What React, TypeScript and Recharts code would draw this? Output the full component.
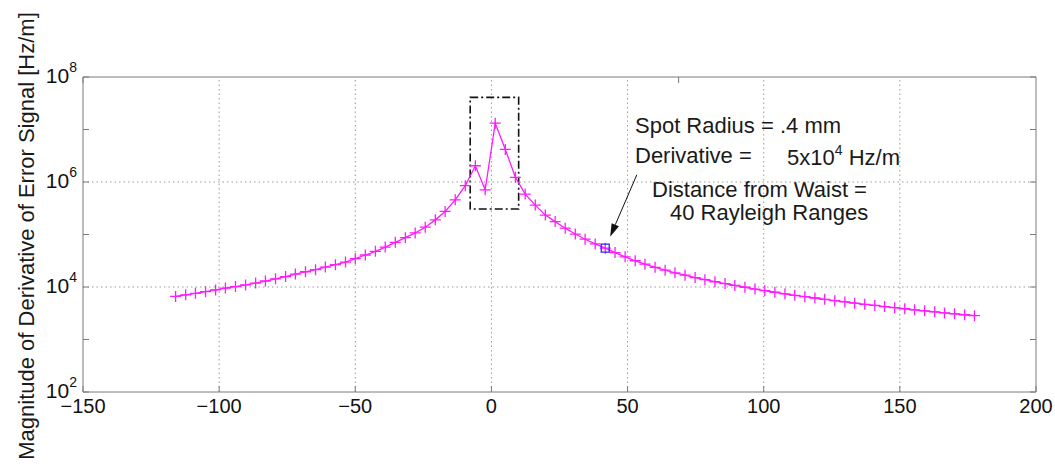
import { ComposedChart, Line, Scatter, XAxis, YAxis, ReferenceLine, ReferenceArea, Customized } from 'recharts'

// distance from waist (x axis) and derivative magnitude [Hz/m]
const distance = [
  -116, -112.3, -108.7, -105, -101.3, -97.7, -94, -90.3, -86.6, -83,
  -79.3, -75.6, -72, -68.3, -64.6, -61, -57.3, -53.6, -50, -46.3,
  -42.6, -39, -35.3, -31.6, -28, -24.3, -20.6, -17, -13.3, -9.6,
  -5.9, -2.3, 1.4, 5.1, 8.8, 12.4, 16.1, 19.8, 23.4, 27.1,
  30.8, 34.4, 38.1, 41.8, 45.4, 49.1, 52.8, 56.4, 60.1, 63.8,
  67.4, 71.1, 74.8, 78.4, 82.1, 85.8, 89.4, 93.1, 96.8, 100.4,
  104.1, 107.8, 111.4, 115.1, 118.8, 122.4, 126.1, 129.8, 133.4, 137.1,
  140.8, 144.4, 148.1, 151.8, 155.4, 159.1, 162.8, 166.4, 170.1, 173.8,
  177.4,
]

const derivative = [
  6610, 7080, 7590, 8130, 8810, 9550, 10200, 10960, 11900, 13000,
  14300, 15800, 17600, 19500, 21400, 24000, 26600, 29900, 34700, 40700,
  47900, 57500, 70800, 87100, 107000, 138000, 190000, 275000, 457000, 851000,
  2040000, 708000, 13200000, 4170000, 1230000, 589000, 363000, 234000, 176000, 132000,
  102000, 81300, 66100, 55000, 45200, 37600, 31600, 27200, 23700, 20900,
  18600, 16800, 15100, 13800, 12600, 11600, 10700, 9890, 9120, 8510,
  7940, 7410, 6950, 6530, 6170, 5820, 5500, 5190, 4920, 4680,
  4450, 4230, 4030, 3850, 3670, 3510, 3360, 3210, 3080, 2960,
  2840,
]

const highlighted = [{ x: 41.8, y: 55000 }]

const xTicks = [-150, -100, -50, 0, 50, 100, 150, 200]
const xGrid = [-100, -50, 0, 50, 100, 150]
const yTicks = [1e2, 1e3, 1e4, 1e5, 1e6, 1e7, 1e8]
const yGrid = [1e4, 1e6]

const data = distance.map((x, i) => ({ x, y: derivative[i] }))

const FONT = '"Liberation Sans", Arial, Helvetica, sans-serif'
const FRAME = '#7a7a7a'
const MAGENTA = '#ff1aff'
const TICK = 6

const fmtX = (v: number) => (v < 0 ? '\u2212' + Math.abs(v) : String(v))

function BottomTick(props: any) {
  const { x, y, payload } = props
  return (
    <g>
      <line x1={x} x2={x} y1={y} y2={y - TICK} stroke={FRAME} />
      <text x={x} y={y + 21} textAnchor="middle" fontSize={20} fontFamily={FONT} fill="#111">
        {fmtX(payload.value)}
      </text>
    </g>
  )
}

function TopTick(props: any) {
  const { x, y } = props
  return <line x1={x} x2={x} y1={y} y2={y + TICK} stroke={FRAME} />
}

function LeftTick(props: any) {
  const { x, y, payload } = props
  const exp = Math.round(Math.log10(payload.value))
  return (
    <g>
      <line x1={x} x2={x + TICK} y1={y} y2={y} stroke={FRAME} />
      {exp % 2 === 0 && (
        <text x={x - 6} y={y + 6} textAnchor="end" fontSize={21} fontFamily={FONT} fill="#111">
          <tspan>10</tspan>
          <tspan dy={-11} fontSize={14}>{exp}</tspan>
        </text>
      )}
    </g>
  )
}

function RightTick(props: any) {
  const { x, y } = props
  return <line x1={x} x2={x - TICK} y1={y} y2={y} stroke={FRAME} />
}

function PlusDot(props: any) {
  const { cx, cy, index } = props
  if (cx == null || cy == null) return <g key={index} />
  return (
    <path
      key={index}
      d={`M${cx - 5.5},${cy}H${cx + 5.5}M${cx},${cy - 5.5}V${cy + 5.5}`}
      stroke={MAGENTA}
      strokeWidth={1.3}
      fill="none"
    />
  )
}

function SquareDot(props: any) {
  const { cx, cy } = props
  return <rect x={cx - 4} y={cy - 4} width={8} height={8} fill="none" stroke="#2a2aff" strokeWidth={1.3} />
}

function Arrow(props: any) {
  const { x1, y1, x2, y2 } = props
  const ang = Math.atan2(y2 - y1, x2 - x1)
  const len = 13
  const half = 4
  const bx = x2 - len * Math.cos(ang)
  const by = y2 - len * Math.sin(ang)
  const px = -Math.sin(ang) * half
  const py = Math.cos(ang) * half
  return (
    <g>
      <line x1={x1} y1={y1} x2={bx} y2={by} stroke="#111" strokeWidth={1} />
      <polygon points={`${x2},${y2} ${bx + px},${by + py} ${bx - px},${by - py}`} fill="#111" />
    </g>
  )
}

function Annotations() {
  const t = { fontFamily: FONT, fontSize: 22, fill: '#1a1a1a' }
  return (
    <g>
      <text transform="rotate(-90)" x={-236} y={34} textAnchor="middle" {...t}>
        Magnitude of Derivative of Error Signal [Hz/m]
      </text>
      <text x={635} y={133} {...t}>Spot Radius = .4 mm</text>
      <text x={635} y={163} {...t}>Derivative =</text>
      <text x={787} y={165} {...t}>
        <tspan>5x10</tspan>
        <tspan dy={-10} fontSize={14}>4</tspan>
        <tspan dy={10}> Hz/m</tspan>
      </text>
      <text x={652} y={197} {...t}>Distance from Waist =</text>
      <text x={670} y={220} {...t}>40 Rayleigh Ranges</text>
    </g>
  )
}

export default function App() {
  return (
    <div style={{ position: 'absolute', left: 0, top: 0, background: '#fff' }}>
      <ComposedChart width={1055} height={464} data={data} margin={{ top: 67, right: 9, bottom: 32, left: 13 }}>
        <XAxis
          dataKey="x"
          type="number"
          domain={[-150, 200]}
          ticks={xTicks}
          interval={0}
          height={40}
          tickSize={0}
          tickMargin={0}
          tickLine={false}
          axisLine={{ stroke: FRAME }}
          tick={<BottomTick />}
        />
        <XAxis
          xAxisId="top"
          orientation="top"
          type="number"
          domain={[-150, 200]}
          ticks={xTicks}
          interval={0}
          height={10}
          tickSize={0}
          tickMargin={0}
          tickLine={false}
          axisLine={{ stroke: FRAME }}
          tick={<TopTick />}
        />
        <YAxis
          scale="log"
          type="number"
          domain={[1e2, 1e8]}
          ticks={yTicks}
          interval={0}
          width={70}
          tickSize={0}
          tickMargin={0}
          tickLine={false}
          axisLine={{ stroke: FRAME }}
          tick={<LeftTick />}
          allowDataOverflow
        />
        <YAxis
          yAxisId="right"
          orientation="right"
          scale="log"
          type="number"
          domain={[1e2, 1e8]}
          ticks={yTicks}
          interval={0}
          width={10}
          tickSize={0}
          tickMargin={0}
          tickLine={false}
          axisLine={{ stroke: FRAME }}
          tick={<RightTick />}
          allowDataOverflow
        />
        {xGrid.map((v) => (
          <ReferenceLine key={'gx' + v} x={v} stroke="#9a9a9a" strokeDasharray="1.5 3" />
        ))}
        {yGrid.map((v) => (
          <ReferenceLine key={'gy' + v} y={v} stroke="#9a9a9a" strokeDasharray="1.5 3" />
        ))}
        <ReferenceArea
          x1={-7.8}
          x2={10}
          y1={307000}
          y2={41000000}
          fill="none"
          fillOpacity={0}
          stroke="#111"
          strokeWidth={1.6}
          strokeDasharray="8 3 2 3"
        />
        <Line
          dataKey="y"
          type="linear"
          stroke={MAGENTA}
          strokeWidth={1.3}
          dot={PlusDot}
          activeDot={false}
          isAnimationActive={false}
        />
        <Scatter data={highlighted} dataKey="y" shape={<SquareDot />} isAnimationActive={false} />
        <ReferenceLine
          segment={[
            { x: 53.4, y: 1370000 },
            { x: 43.6, y: 91000 },
          ]}
          shape={Arrow}
        />
        <Customized component={Annotations} />
      </ComposedChart>
    </div>
  )
}
